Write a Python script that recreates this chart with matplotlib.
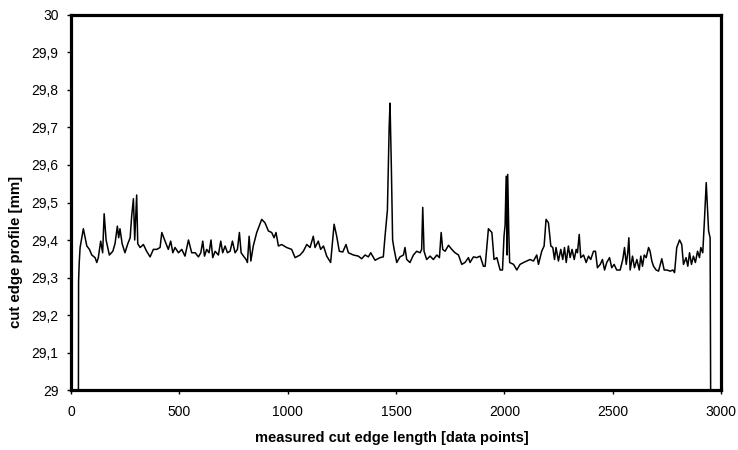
import matplotlib.pyplot as plt
from matplotlib.ticker import FuncFormatter

# data points and cut edge profile [mm]
position = [
    34, 35, 38, 42, 57, 73, 85, 96, 111, 119, 126, 137, 146, 153, 162, 177,
    193, 203, 214, 220, 226, 236, 249, 262, 273, 280, 288, 294, 303, 308,
    319, 334, 349, 365, 380, 396, 411, 419, 434, 449, 460, 470, 480, 496,
    511, 526, 542, 557, 573, 588, 599, 608, 616, 626, 637, 646, 654, 665,
    680, 691, 700, 711, 722, 734, 745, 757, 768, 777, 785, 796, 808, 814,
    822, 830, 841, 857, 880, 895, 911, 926, 937, 946, 957, 972, 995, 1018,
    1034, 1057, 1072, 1088, 1103, 1118, 1126, 1141, 1152, 1165, 1180, 1198,
    1214, 1226, 1238, 1254, 1269, 1280, 1303, 1326, 1341, 1357, 1372, 1383,
    1403, 1426, 1441, 1449, 1460, 1468, 1472, 1478, 1484, 1491, 1503, 1518,
    1534, 1541, 1549, 1564, 1580, 1595, 1611, 1618, 1623, 1629, 1641, 1657,
    1672, 1688, 1700, 1708, 1715, 1726, 1742, 1757, 1772, 1788, 1803, 1818,
    1834, 1841, 1857, 1872, 1888, 1903, 1911, 1926, 1942, 1952, 1965, 1980,
    1991, 1998, 2003, 2008, 2012, 2015, 2020, 2024, 2042, 2057, 2072, 2088,
    2103, 2118, 2134, 2149, 2157, 2172, 2183, 2192, 2203, 2214, 2223, 2231,
    2238, 2249, 2260, 2269, 2277, 2285, 2295, 2303, 2312, 2322, 2331, 2337,
    2345, 2352, 2365, 2377, 2388, 2398, 2411, 2420, 2429, 2442, 2452, 2462,
    2472, 2485, 2495, 2506, 2518, 2534, 2546, 2554, 2562, 2569, 2574, 2580,
    2591, 2600, 2611, 2622, 2629, 2637, 2645, 2654, 2665, 2672, 2680, 2688,
    2700, 2711, 2726, 2737, 2749, 2765, 2777, 2785, 2795, 2808, 2818, 2826,
    2838, 2846, 2854, 2863, 2872, 2881, 2891, 2900, 2906, 2915, 2923, 2931,
    2937, 2942, 2949, 2952,
]
profile = [
    28.90, 29.29, 29.34, 29.38, 29.43, 29.384, 29.375, 29.36, 29.353, 29.34,
    29.353, 29.397, 29.366, 29.47, 29.40, 29.36, 29.37, 29.39, 29.437, 29.406,
    29.43, 29.39, 29.366, 29.39, 29.406, 29.464, 29.51, 29.40, 29.52, 29.39,
    29.38, 29.388, 29.37, 29.355, 29.375, 29.375, 29.38, 29.42, 29.397,
    29.375, 29.397, 29.366, 29.38, 29.366, 29.375, 29.357, 29.40, 29.366,
    29.366, 29.355, 29.366, 29.397, 29.357, 29.375, 29.366, 29.40, 29.353,
    29.37, 29.36, 29.397, 29.366, 29.384, 29.366, 29.37, 29.397, 29.366,
    29.375, 29.42, 29.366, 29.357, 29.348, 29.34, 29.41, 29.344, 29.384,
    29.42, 29.455, 29.446, 29.424, 29.42, 29.406, 29.42, 29.384, 29.388,
    29.38, 29.375, 29.353, 29.36, 29.37, 29.388, 29.38, 29.41, 29.38, 29.397,
    29.375, 29.384, 29.357, 29.34, 29.442, 29.41, 29.37, 29.368, 29.388,
    29.366, 29.36, 29.357, 29.35, 29.36, 29.355, 29.366, 29.346, 29.353,
    29.355, 29.41, 29.48, 29.70, 29.765, 29.60, 29.40, 29.375, 29.34, 29.355,
    29.36, 29.38, 29.348, 29.34, 29.36, 29.37, 29.366, 29.375, 29.487, 29.37,
    29.348, 29.357, 29.348, 29.36, 29.353, 29.42, 29.375, 29.37, 29.386,
    29.375, 29.366, 29.36, 29.335, 29.34, 29.353, 29.34, 29.355, 29.353,
    29.357, 29.33, 29.33, 29.43, 29.42, 29.348, 29.353, 29.32, 29.32, 29.41,
    29.44, 29.57, 29.36, 29.575, 29.42, 29.34, 29.335, 29.32, 29.335, 29.34,
    29.344, 29.348, 29.344, 29.36, 29.335, 29.37, 29.384, 29.455, 29.446,
    29.384, 29.38, 29.348, 29.38, 29.344, 29.375, 29.348, 29.38, 29.34,
    29.384, 29.353, 29.375, 29.348, 29.375, 29.366, 29.415, 29.353, 29.36,
    29.34, 29.357, 29.348, 29.37, 29.37, 29.326, 29.335, 29.348, 29.32,
    29.34, 29.353, 29.326, 29.335, 29.32, 29.32, 29.348, 29.38, 29.335,
    29.366, 29.406, 29.32, 29.357, 29.326, 29.348, 29.32, 29.357, 29.33,
    29.36, 29.353, 29.38, 29.37, 29.344, 29.33, 29.32, 29.317, 29.35, 29.32,
    29.32, 29.317, 29.32, 29.313, 29.38, 29.40, 29.388, 29.335, 29.353,
    29.33, 29.366, 29.335, 29.357, 29.34, 29.37, 29.353, 29.38, 29.366,
    29.455, 29.553, 29.48, 29.424, 29.406, 28.90,
]

x_ticks = [0, 500, 1000, 1500, 2000, 2500, 3000]
y_ticks = [29.0, 29.1, 29.2, 29.3, 29.4, 29.5, 29.6, 29.7, 29.8, 29.9, 30.0]


def comma_fmt(v, _pos):
    s = f"{v:.1f}".rstrip("0").rstrip(".")
    return s.replace(".", ",")


plt.rcParams["font.family"] = ["Liberation Sans", "DejaVu Sans"]

fig = plt.figure(figsize=(7.38, 4.5), dpi=100)
ax = fig.add_axes([0.0962, 0.1333, 0.881, 0.8334])

ax.plot(position, profile, color="black", linewidth=1.1)

ax.set_xlim(0, 3000)
ax.set_ylim(29, 30)
ax.set_xticks(x_ticks)
ax.set_yticks(y_ticks)
ax.yaxis.set_major_formatter(FuncFormatter(comma_fmt))
ax.tick_params(direction="out", length=3, width=1, labelsize=10)
ax.tick_params(axis="x", pad=8)
ax.tick_params(axis="y", pad=6)

for side in ax.spines.values():
    side.set_linewidth(2.3)

ax.set_xlabel("measured cut edge length [data points]", fontsize=10.5,
              fontweight="bold")
ax.set_ylabel("cut edge profile [mm]", fontsize=10.8, fontweight="bold")
ax.xaxis.set_label_coords(0.494, -0.109)
ax.yaxis.set_label_coords(-0.074, 0.368)

fig.savefig("out.png", dpi=100)
